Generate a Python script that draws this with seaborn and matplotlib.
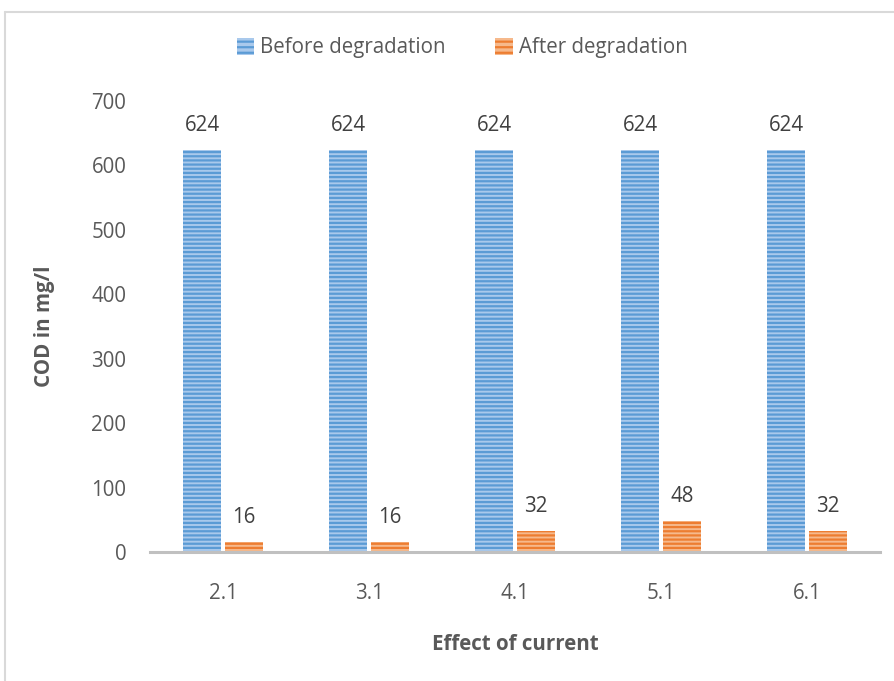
import matplotlib
matplotlib.use("Agg")
import matplotlib.pyplot as plt
import seaborn as sns
import pandas as pd
from matplotlib.lines import Line2D
from matplotlib.patches import Patch

# Data
currents = ["2.1", "3.1", "4.1", "5.1", "6.1"]
before = [624, 624, 624, 624, 624]
after = [16, 16, 32, 48, 32]
series = ["Before degradation", "After degradation"]

df = pd.DataFrame({
    "current": currents * 2,
    "cod": before + after,
    "stage": [series[0]] * len(currents) + [series[1]] * len(currents),
})

sns.set_theme(style="white")
plt.rcParams["font.family"] = ["Open Sans", "DejaVu Sans"]
plt.rcParams["hatch.linewidth"] = 1.6

text_gray = "#595959"
fs = 14.8
face = {series[0]: "#a9c9ec", series[1]: "#f6b98c"}
stripe = {series[0]: "#5b9bd5", series[1]: "#ed7d31"}

fig = plt.figure(figsize=(8.94, 6.81), dpi=100)
ax = fig.add_axes([150 / 894, 1 - 552 / 681, 730 / 894, 451 / 681])

sns.barplot(data=df, x="current", y="cod", hue="stage", hue_order=series,
            palette=face, width=0.575, gap=0.1, ax=ax, legend=False,
            saturation=1)

for cont, name in zip(ax.containers, series):
    for bar in cont:
        bar.set_hatch("----")
        bar.set_edgecolor(stripe[name])
        bar.set_linewidth(0)
    ax.bar_label(cont, labels=[f"{v:.0f}" for v in cont.datavalues], padding=10,
                 fontsize=fs, color="#404040")

ax.set_ylim(0, 700)
ax.set_yticks(range(0, 701, 100))
ax.set_xlim(-0.5, len(currents) - 0.5)
ax.tick_params(axis="both", length=0, labelsize=fs, labelcolor=text_gray)
ax.tick_params(axis="y", pad=17)
ax.tick_params(axis="x", pad=22)
for s in ["left", "right", "top"]:
    ax.spines[s].set_visible(False)
ax.spines["bottom"].set_color("#c0c0c0")
ax.spines["bottom"].set_linewidth(2.2)

ax.set_xlabel("Effect of current", fontsize=fs, fontweight="bold",
              color=text_gray, labelpad=22)
ax.set_ylabel("COD in mg/l", fontsize=fs, fontweight="bold",
              color=text_gray, labelpad=26)

handles = [Patch(facecolor=face[s], edgecolor=stripe[s], hatch="---", linewidth=0)
           for s in series]
fig.legend(handles, series, loc="center", bbox_to_anchor=(462 / 894, 1 - 48 / 681),
           ncol=2, frameon=False, fontsize=fs, labelcolor=text_gray,
           handlelength=0.85, handleheight=0.85, handletextpad=0.3,
           columnspacing=2.4)

# outer chart frame (left and top edges)
fig.add_artist(Line2D([5 / 894, 5 / 894], [0, 1 - 11.5 / 681],
                      transform=fig.transFigure, color="#d9d9d9", lw=1.5))
fig.add_artist(Line2D([5 / 894, 1], [1 - 11.5 / 681, 1 - 11.5 / 681],
                      transform=fig.transFigure, color="#d9d9d9", lw=1.5))

fig.savefig("out.png", dpi=100)
